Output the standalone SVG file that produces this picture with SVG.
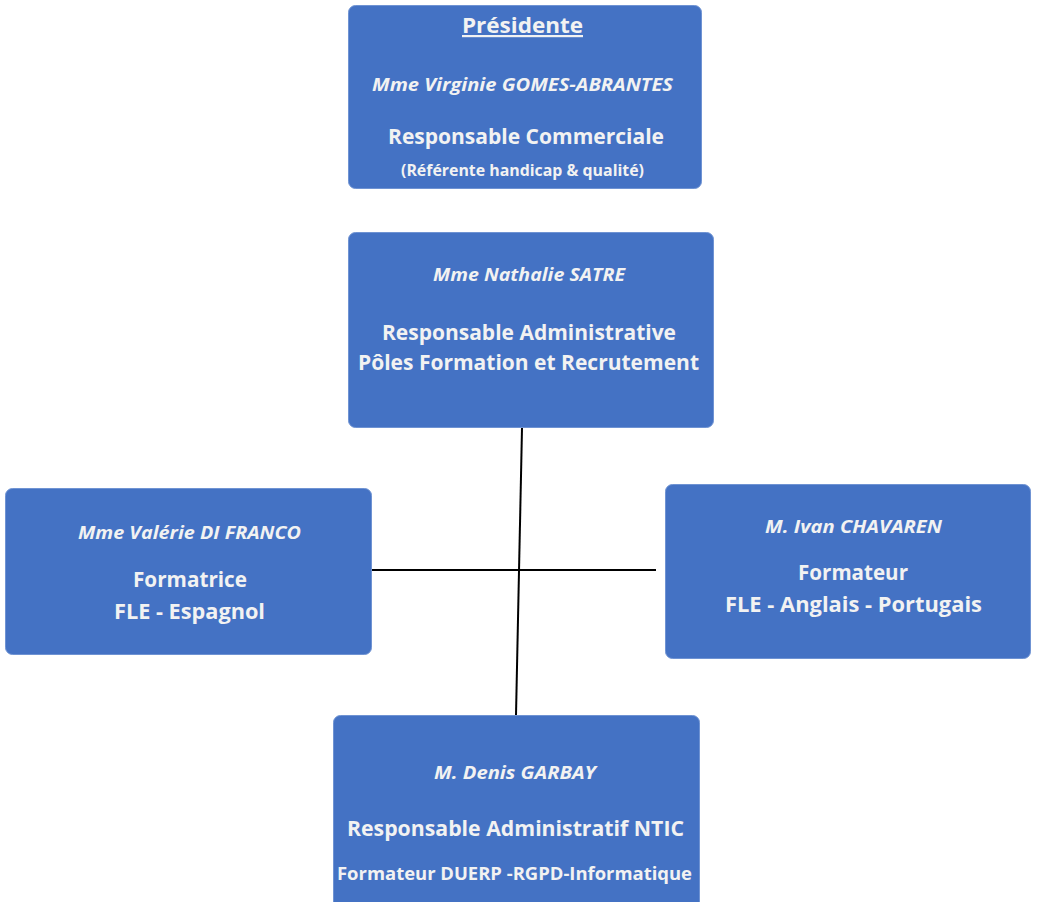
<svg xmlns="http://www.w3.org/2000/svg" width="1037" height="902" viewBox="0 0 1037 902">
<style>
.box{fill:#4472C4;stroke:#6F93D3;stroke-width:1}
text{font-family:"Open Sans","Noto Sans","Liberation Sans",sans-serif;fill:#F2F2F2;font-weight:bold;text-anchor:middle}
.n{font-style:italic;font-size:18px}
.r{font-size:21px}
.s{font-size:16px}
.conn{stroke:#000;stroke-width:2;fill:none}
</style>
<rect width="1037" height="902" fill="#fff"/>
<g id="connectors">
<line class="conn" x1="522" y1="428" x2="516" y2="715"/>
<line class="conn" x1="371" y1="570" x2="656" y2="570"/>
</g>
<g id="node-presidente">
<rect class="box" x="348.5" y="5.5" width="353" height="183" rx="7"/>
<text x="522.5" y="33" style="font-size:22px;text-decoration:underline" textLength="121" lengthAdjust="spacingAndGlyphs">Présidente</text>
<text class="n" x="522.5" y="91" textLength="301" lengthAdjust="spacingAndGlyphs">Mme Virginie GOMES-ABRANTES</text>
<text class="r" x="526" y="144" textLength="276" lengthAdjust="spacingAndGlyphs">Responsable Commerciale</text>
<text class="s" x="522.5" y="176" textLength="243" lengthAdjust="spacingAndGlyphs">(Référente handicap &amp; qualité)</text>
</g>
<g id="node-satre">
<rect class="box" x="348.5" y="232.5" width="365" height="195" rx="7"/>
<text class="n" x="529" y="281" textLength="192" lengthAdjust="spacingAndGlyphs">Mme Nathalie SATRE</text>
<text class="r" x="529" y="340" textLength="294" lengthAdjust="spacingAndGlyphs">Responsable Administrative</text>
<text class="r" x="528.5" y="370" textLength="341" lengthAdjust="spacingAndGlyphs">Pôles Formation et Recrutement</text>
</g>
<g id="node-difranco">
<rect class="box" x="5.5" y="488.5" width="366" height="166" rx="7"/>
<text class="n" x="189.5" y="539" textLength="223" lengthAdjust="spacingAndGlyphs">Mme Valérie DI FRANCO</text>
<text class="r" x="190" y="587" textLength="114" lengthAdjust="spacingAndGlyphs">Formatrice</text>
<text class="r" x="189.5" y="619" textLength="151" lengthAdjust="spacingAndGlyphs">FLE - Espagnol</text>
</g>
<g id="node-chavaren">
<rect class="box" x="665.5" y="484.5" width="365" height="174" rx="7"/>
<text class="n" x="853.5" y="533" textLength="177" lengthAdjust="spacingAndGlyphs">M. Ivan CHAVAREN</text>
<text class="r" x="853" y="580" textLength="110" lengthAdjust="spacingAndGlyphs">Formateur</text>
<text class="r" x="853.5" y="612" textLength="257" lengthAdjust="spacingAndGlyphs">FLE - Anglais - Portugais</text>
</g>
<g id="node-garbay">
<rect class="box" x="333.5" y="715.5" width="366" height="200" rx="7"/>
<text class="n" x="515" y="779" textLength="162" lengthAdjust="spacingAndGlyphs">M. Denis GARBAY</text>
<text class="r" x="515.5" y="836" textLength="337" lengthAdjust="spacingAndGlyphs">Responsable Administratif NTIC</text>
<text x="514.5" y="880" style="font-size:18px" textLength="355" lengthAdjust="spacingAndGlyphs">Formateur DUERP -RGPD-Informatique</text>
</g>
</svg>
